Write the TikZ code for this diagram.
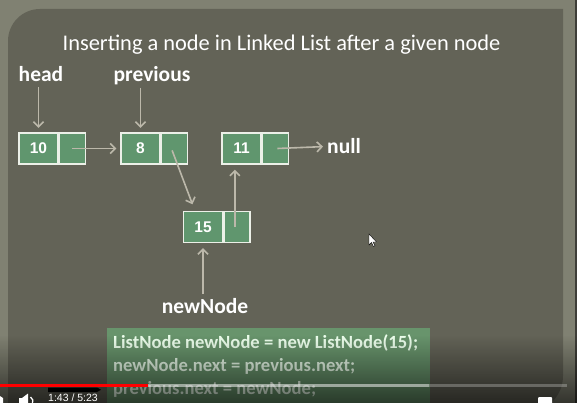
\documentclass[tikz,border=0pt]{standalone}
\usepackage{fontspec}
\setmainfont{Carlito}
\newfontfamily\playerfont{Liberation Sans}
\newfontfamily\numfont{Liberation Sans}
\usetikzlibrary{arrows.meta,fadings,calc}
\definecolor{outerbg}{RGB}{128,129,114}
\definecolor{slidebg}{RGB}{99,99,87}
\definecolor{cellgreen}{RGB}{96,150,110}
\definecolor{codegreen}{RGB}{104,148,108}
\definecolor{cellborder}{RGB}{236,240,232}
\definecolor{arrowgray}{RGB}{188,184,170}
\definecolor{frameedge}{RGB}{62,62,56}
\tikzfading[name=fadedown, top color=transparent!100, bottom color=transparent!0]
\begin{document}
\begin{tikzpicture}[x=1pt,y=-1pt,
  cell/.style={draw=cellborder, line width=1.4pt, fill=cellgreen, minimum width=39pt,
    minimum height=31pt, inner sep=0pt, text=white, font=\numfont\bfseries\fontsize{15.5}{18}\selectfont},
  ptrcell/.style={cell, minimum width=26pt},
  lbl/.style={text=white, inner sep=2pt, font=\bfseries\fontsize{21.5}{26}\selectfont},
  codeline/.style={text=white!93!green, inner sep=0pt, anchor=base west, font=\bfseries\fontsize{18.6}{23}\selectfont},
  arr/.style={draw=arrowgray, line width=1.6pt, -{Straight Barb[length=5pt,width=10pt,line width=1.6pt]}}
]
\useasboundingbox (0,0) rectangle (577,403);
\clip (0,0) rectangle (577,403);
% backgrounds
\fill[outerbg] (0,0) rectangle (577,403);
\fill[slidebg] (8,420) [rounded corners=32pt] -- (8,9) [sharp corners] -- (563,9)
  [rounded corners=36pt] -- (563,412) [sharp corners] -- (8,412) -- cycle;
\draw[frameedge, line width=2pt] (576,0) -- (576,403);
% title
\node[text=white, inner sep=0pt, anchor=base, font=\fontsize{22.4}{27}\selectfont] (title) at (281.5,51)
  {Inserting a node in Linked List after a given node};
% labels
\node[lbl, anchor=base] (head) at (41,82) {head};
\node[lbl, anchor=base] (prev) at (152,82) {previous};
% list nodes
\node[cell] (n10) at (38.5,148.5) {10};
\node[ptrcell, anchor=west] (n10p) at (n10.east) {};
\node[cell] (n8) at (140.5,148.5) {8};
\node[ptrcell, anchor=west] (n8p) at (n8.east) {};
\node[cell] (n11) at (241.5,148.5) {11};
\node[ptrcell, anchor=west] (n11p) at (n11.east) {};
\node[cell] (n15) at (203,227) {15};
\node[ptrcell, anchor=west] (n15p) at (n15.east) {};
\node[lbl, anchor=base west] (null) at (325,154) {null};
\node[lbl, anchor=base] (newnode) at (205,313) {newNode};
% connectors
\draw[arr, shorten <=3pt, shorten >=4.5pt] (head.south -| n10.north) -- (n10.north);
\draw[arr, shorten >=4.5pt] (prev.south -| n8.north) -- (n8.north);
\draw[arr, shorten >=4pt] (n10p.center) -- (n8.west);
\draw[arr, shorten <=2pt, shorten >=7pt] ([xshift=-3pt]n8p.center) -- ($(n15.north west)!0.3!(n15.north east)$);
\draw[arr, shorten >=5pt] ([xshift=-2pt]n15p.center) -- ([xshift=-2pt]n15p.center |- n11.south);
\draw[arr, shorten >=2pt] ([xshift=2pt]n11p.center) -- (null.west);
\draw[arr, shorten <=2pt, shorten >=5pt] (newnode.north -| n15.south) -- (n15.south);
% code box
\node[fill=codegreen, minimum width=323pt, minimum height=90pt, inner sep=0pt, anchor=north west] (codebox) at (107,328) {};
\node[codeline] (code1) at (113,348) {ListNode newNode = new ListNode(15);};
\node[codeline] (code2) at (113,371) {newNode.next = previous.next;};
\node[codeline] (code3) at (113,394) {previous.next = newNode;};
% mouse cursor
\filldraw[fill=white, draw=black, line width=0.4pt] (369,234) -- (369,245) -- (371.5,242.5) -- (373.5,246.5) -- (375,245.8) -- (373,242) -- (376.5,242) -- cycle;
% player overlay
\fill[black, opacity=0.6, path fading=fadedown] (0,335) rectangle (577,403);
\draw[white, opacity=0.5, line width=3pt] (148,385) -- (429,385);
\draw[white, opacity=0.25, line width=3pt] (429,385) -- (567,385);
\draw[red, line width=3pt] (0,385) -- (148,385);
\fill[black] (48,387.5) rectangle (97,392) -- (97,387.5) -- (101,389.75) -- (97,392) -- cycle;
\node[text=white, inner sep=0pt, anchor=base west, font=\playerfont\fontsize{10.5}{12}\selectfont] (time) at (48,401.5) {1:43 / 5:23};
\fill[white] (19,398) rectangle (23,404);
\fill[white] (22,398) -- (28,393.5) -- (28,409) -- (22,404) -- cycle;
\draw[white, line width=1.3pt] (30.5,397) arc[start angle=60, end angle=-60, radius=5pt];
\fill[white, rounded corners=1pt] (538,397) rectangle (552,408);
\fill[white] (0,396) -- (3,398) -- (3,410) -- (0,410) -- cycle;
\end{tikzpicture}
\end{document}
